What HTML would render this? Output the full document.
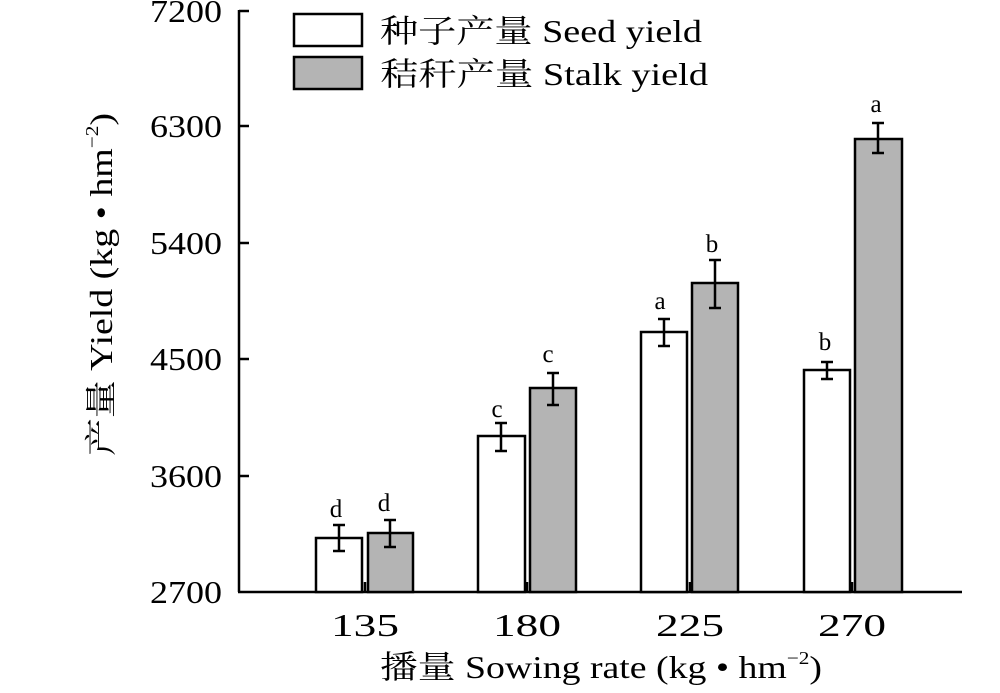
<!DOCTYPE html>
<html><head><meta charset="utf-8"><style>body{margin:0;background:#fff}</style></head><body>
<svg width="1000" height="688" viewBox="0 0 1000 688" xmlns="http://www.w3.org/2000/svg" font-family="'Liberation Serif','Noto Serif CJK SC',serif">
<g stroke="#000" stroke-width="2.5" fill="none">
<line x1="239" y1="10" x2="239" y2="592"/>
<line x1="238" y1="592" x2="962" y2="592"/>
<line x1="239" y1="11" x2="249" y2="11"/>
<line x1="239" y1="126" x2="249" y2="126"/>
<line x1="239" y1="243" x2="249" y2="243"/>
<line x1="239" y1="359" x2="249" y2="359"/>
<line x1="239" y1="476" x2="249" y2="476"/>
<line x1="365" y1="592" x2="365" y2="582"/>
<line x1="527" y1="592" x2="527" y2="582"/>
<line x1="690" y1="592" x2="690" y2="582"/>
<line x1="852" y1="592" x2="852" y2="582"/>
</g>
<g font-size="32" fill="#000">
<text x="150" y="22" textLength="72" lengthAdjust="spacingAndGlyphs">7200</text><text x="150" y="137" textLength="72" lengthAdjust="spacingAndGlyphs">6300</text><text x="150" y="254" textLength="72" lengthAdjust="spacingAndGlyphs">5400</text><text x="150" y="370" textLength="72" lengthAdjust="spacingAndGlyphs">4500</text><text x="150" y="487" textLength="72" lengthAdjust="spacingAndGlyphs">3600</text><text x="150" y="603" textLength="72" lengthAdjust="spacingAndGlyphs">2700</text>
</g>
<g font-size="32">
<text x="331" y="636" textLength="68" lengthAdjust="spacingAndGlyphs">135</text><text x="493" y="636" textLength="68" lengthAdjust="spacingAndGlyphs">180</text><text x="656" y="636" textLength="68" lengthAdjust="spacingAndGlyphs">225</text><text x="818" y="636" textLength="68" lengthAdjust="spacingAndGlyphs">270</text>
</g>
<text x="380" y="678" font-size="32" textLength="442" lengthAdjust="spacingAndGlyphs">播量 Sowing rate (kg • hm<tspan font-size="18" dy="-14">−2</tspan><tspan dy="14">)</tspan></text>
<text transform="translate(112,456) rotate(-90)" font-size="32" textLength="343" lengthAdjust="spacingAndGlyphs">产量 Yield (kg • hm<tspan font-size="18" dy="-14">−2</tspan><tspan dy="14">)</tspan></text>
<g stroke="#000" stroke-width="2.5">
<rect x="294" y="14" width="68" height="32" fill="#fff"/>
<rect x="294" y="57" width="68" height="32" fill="#b4b4b4"/>
<rect x="316" y="538" width="46" height="54" fill="#fff"/>
<rect x="368" y="533" width="45" height="59" fill="#b4b4b4"/>
<rect x="478" y="436" width="47" height="156" fill="#fff"/>
<rect x="530" y="388" width="46" height="204" fill="#b4b4b4"/>
<rect x="641" y="332" width="46" height="260" fill="#fff"/>
<rect x="692" y="283" width="46" height="309" fill="#b4b4b4"/>
<rect x="804" y="370" width="46" height="222" fill="#fff"/>
<rect x="855" y="139" width="47" height="453" fill="#b4b4b4"/>
</g>
<g stroke="#000" stroke-width="2.5" fill="none">
<path d="M339 525V551M333 525H345M333 551H345"/>
<path d="M390 520V547M384 520H396M384 547H396"/>
<path d="M501 423V451M495 423H507M495 451H507"/>
<path d="M553 373V405M547 373H559M547 405H559"/>
<path d="M664 319V346M658 319H670M658 346H670"/>
<path d="M715 260V308M709 260H721M709 308H721"/>
<path d="M827 362V379M821 362H833M821 379H833"/>
<path d="M878 123V153M872 123H884M872 153H884"/>
</g>
<g font-size="25" text-anchor="middle">
<text x="336" y="517">d</text><text x="384" y="511">d</text>
<text x="497" y="417">c</text><text x="548" y="362">c</text>
<text x="660" y="309">a</text><text x="712" y="252">b</text>
<text x="825" y="350">b</text><text x="876" y="112">a</text>
</g>
<g font-size="32">
<text x="380" y="42" textLength="322" lengthAdjust="spacingAndGlyphs">种子产量 Seed yield</text>
<text x="380" y="85" textLength="328" lengthAdjust="spacingAndGlyphs">秸秆产量 Stalk yield</text>
</g>
</svg>
</body></html>
